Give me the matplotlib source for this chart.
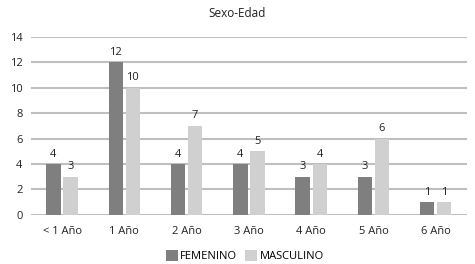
import matplotlib
matplotlib.use("Agg")
import matplotlib.pyplot as plt
import numpy as np

plt.rcParams['font.family'] = ['Open Sans', 'DejaVu Sans']

categories = ["< 1 Año", "1 Año", "2 Año", "3 Año", "4 Año", "5 Año", "6 Año"]
femenino = [4, 12, 4, 4, 3, 3, 1]
masculino = [3, 10, 7, 5, 4, 6, 1]
title = "Sexo-Edad"

c_fem = "#7f7f7f"
c_mas = "#d0d0d0"

fig = plt.figure(figsize=(4.75, 2.64), dpi=100)
ax = fig.add_axes([0.065, 0.186, 0.918, 0.674])

x = np.arange(len(categories))
w = 0.23
off = 0.137
b1 = ax.bar(x - off, femenino, w, color=c_fem, label="FEMENINO", zorder=3)
b2 = ax.bar(x + off, masculino, w, color=c_mas, label="MASCULINO", zorder=3)
for bars, vals in ((b1, femenino), (b2, masculino)):
    for r, v in zip(bars, vals):
        ax.text(r.get_x() + r.get_width() / 2, v + 0.35, str(v), ha="center", va="bottom",
                fontsize=8, color="#222222")

ax.set_xlim(-0.5, len(categories) - 0.5)
ax.set_ylim(0, 14)
ax.set_yticks(range(0, 15, 2))
ax.set_xticks(x)
ax.set_xticklabels(categories)
ax.tick_params(axis="both", length=0, labelsize=8, colors="#222222")
ax.tick_params(axis="x", pad=8)
ax.tick_params(axis="y", pad=6)
ax.yaxis.grid(True, color="#bfbfbf", linewidth=1.5, zorder=0)
for s in ax.spines.values():
    s.set_visible(False)

fig.text(0.5, 0.95, title, ha="center", va="center", fontsize=8.5, color="#222222")
leg = fig.legend(handles=[b1, b2], loc="center", bbox_to_anchor=(0.515, 0.03), ncol=2,
                 frameon=False, fontsize=8, handlelength=1.1, handleheight=1.1,
                 handletextpad=0.2, columnspacing=0.7)
fig.savefig("out.png", dpi=100, facecolor="white")
